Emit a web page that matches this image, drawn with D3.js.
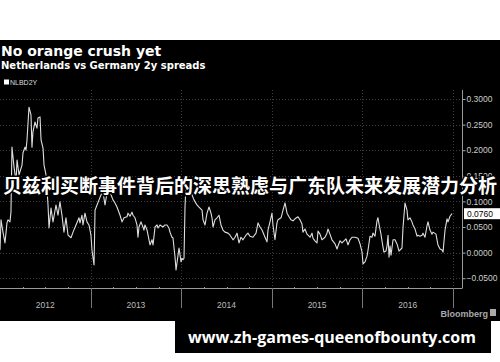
<!DOCTYPE html>
<html>
<head>
<meta charset="utf-8">
<script src="https://cdn.jsdelivr.net/npm/d3@7"></script>
<style>
  body { margin: 0; background: #fff; }
  #chart { width: 500px; height: 362px; }
</style>
</head>
<body>
<div id="chart"></div>
<script>
// NLBD2Y, Netherlands vs Germany 2y spread (decimal year, value)
var years = [
  2012.000, 2012.011, 2012.033, 2012.055, 2012.077, 2012.088, 2012.110, 2012.121, 2012.132, 2012.155,
  2012.177, 2012.188, 2012.210, 2012.243, 2012.254, 2012.276, 2012.287, 2012.298, 2012.320, 2012.342,
  2012.353, 2012.364, 2012.386, 2012.408, 2012.419, 2012.442, 2012.453, 2012.475, 2012.486, 2012.508,
  2012.530, 2012.541, 2012.563, 2012.585, 2012.618, 2012.640, 2012.662, 2012.684, 2012.706, 2012.728,
  2012.751, 2012.784, 2012.806, 2012.839, 2012.872, 2012.883, 2012.905, 2012.916, 2012.938, 2012.960,
  2012.982, 2013.004, 2013.015, 2013.038, 2013.049, 2013.071, 2013.093, 2013.115, 2013.137, 2013.159,
  2013.181, 2013.203, 2013.225, 2013.247, 2013.269, 2013.291, 2013.325, 2013.347, 2013.369, 2013.402,
  2013.413, 2013.435, 2013.457, 2013.468, 2013.490, 2013.512, 2013.523, 2013.534, 2013.556, 2013.578,
  2013.589, 2013.600, 2013.623, 2013.634, 2013.656, 2013.678, 2013.689, 2013.711, 2013.733, 2013.744,
  2013.766, 2013.799, 2013.821, 2013.843, 2013.865, 2013.876, 2013.898, 2013.909, 2013.932, 2013.943,
  2013.965, 2013.976, 2013.998, 2014.009, 2014.020, 2014.031, 2014.042, 2014.053, 2014.086, 2014.119,
  2014.141, 2014.174, 2014.196, 2014.230, 2014.241, 2014.263, 2014.285, 2014.307, 2014.329, 2014.340,
  2014.351, 2014.373, 2014.395, 2014.417, 2014.439, 2014.461, 2014.483, 2014.517, 2014.539, 2014.572,
  2014.594, 2014.616, 2014.638, 2014.660, 2014.682, 2014.715, 2014.737, 2014.759, 2014.792, 2014.826,
  2014.848, 2014.870, 2014.892, 2014.925, 2014.947, 2014.958, 2014.980, 2015.002, 2015.013, 2015.035,
  2015.057, 2015.068, 2015.102, 2015.124, 2015.146, 2015.168, 2015.190, 2015.212, 2015.234, 2015.256,
  2015.289, 2015.311, 2015.333, 2015.344, 2015.366, 2015.389, 2015.422, 2015.444, 2015.455, 2015.477,
  2015.499, 2015.510, 2015.532, 2015.554, 2015.587, 2015.609, 2015.620, 2015.642, 2015.664, 2015.698,
  2015.720, 2015.731, 2015.753, 2015.775, 2015.786, 2015.819, 2015.841, 2015.863, 2015.885, 2015.918,
  2015.951, 2015.974, 2015.996, 2016.007, 2016.029, 2016.051, 2016.062, 2016.084, 2016.106, 2016.117,
  2016.139, 2016.161, 2016.172, 2016.183, 2016.205, 2016.227, 2016.238, 2016.260, 2016.272, 2016.283,
  2016.294, 2016.305, 2016.316, 2016.338, 2016.360, 2016.382, 2016.404, 2016.437, 2016.448, 2016.470,
  2016.492, 2016.503, 2016.525, 2016.547, 2016.558, 2016.581, 2016.603, 2016.614, 2016.636, 2016.658,
  2016.669, 2016.691, 2016.713, 2016.724, 2016.746, 2016.768, 2016.779, 2016.812, 2016.834, 2016.857,
  2016.879, 2016.890, 2016.912, 2016.934, 2016.945, 2016.967, 2016.989
];
var spread = [
  0.005, 0.064, 0.040, 0.019, 0.058, 0.064, 0.060, 0.079, 0.206, 0.167,
  0.138, 0.181, 0.152, 0.171, 0.195, 0.206, 0.200, 0.220, 0.284, 0.269,
  0.206, 0.236, 0.255, 0.243, 0.263, 0.265, 0.220, 0.204, 0.171, 0.152,
  0.093, 0.048, 0.087, 0.060, 0.093, 0.073, 0.099, 0.073, 0.040, 0.068,
  0.034, 0.029, 0.040, 0.054, 0.068, 0.058, 0.073, 0.054, 0.077, 0.060,
  0.054, 0.034, 0.005, -0.024, 0.083, 0.093, 0.103, 0.113, 0.118, 0.093,
  0.116, 0.126, 0.113, 0.103, 0.097, 0.089, 0.073, 0.060, 0.068, 0.070,
  0.077, 0.071, 0.079, 0.073, 0.068, 0.054, 0.030, 0.050, 0.060, 0.050,
  0.044, 0.054, 0.044, 0.034, 0.015, 0.025, 0.015, 0.050, 0.054, 0.048,
  0.054, 0.050, 0.054, 0.054, 0.048, 0.040, 0.030, 0.029, -0.009, -0.034,
  -0.005, 0.009, -0.018, -0.011, -0.014, -0.011, 0.089, 0.132, 0.122, 0.113,
  0.103, 0.093, 0.089, 0.083, 0.064, 0.054, 0.077, 0.089, 0.077, 0.068,
  0.050, 0.064, 0.068, 0.073, 0.054, 0.044, 0.040, 0.038, 0.034, 0.025,
  0.030, 0.038, 0.019, 0.030, 0.025, 0.034, 0.038, 0.032, 0.030, 0.038,
  0.058, 0.050, 0.044, 0.030, 0.021, 0.044, 0.060, 0.077, 0.054, 0.025,
  0.058, 0.064, 0.068, 0.083, 0.097, 0.077, 0.070, 0.064, 0.062, 0.066,
  0.070, 0.064, 0.056, 0.040, 0.046, 0.036, 0.030, 0.038, 0.028, 0.023,
  0.019, 0.042, 0.036, 0.025, 0.030, 0.038, 0.046, 0.036, 0.025, 0.017,
  0.007, 0.013, 0.023, 0.019, 0.021, 0.027, 0.015, 0.025, 0.030, 0.030,
  0.028, 0.017, 0.001, -0.022, -0.018, -0.007, 0.005, 0.032, 0.030, 0.038,
  0.032, 0.062, 0.068, 0.056, 0.036, 0.011, 0.001, 0.003, 0.013, 0.034,
  -0.009, 0.013, -0.005, 0.025, 0.025, 0.017, 0.003, 0.009, 0.048, 0.097,
  0.083, 0.064, 0.068, 0.060, 0.054, 0.046, 0.032, 0.034, 0.032, 0.034,
  0.038, 0.030, 0.052, 0.060, 0.044, 0.036, 0.040, 0.036, 0.015, 0.007,
  0.005, 0.001, 0.044, 0.066, 0.060, 0.071, 0.076
];
var yTicks = [0.30, 0.25, 0.20, 0.15, 0.10, 0.05, 0.00, -0.05];
var yearLabels = ['2012', '2013', '2014', '2015', '2016'];
var lastValue = 0.0760;

var title = 'No orange crush yet';
var subtitle = 'Netherlands vs Germany 2y spreads';
var legendLabel = 'NLBD2Y';
var overlayTitle = '贝兹利买断事件背后的深思熟虑与广东队未来发展潜力分析';
var siteLabel = 'www.zh-games-queenofbounty.com';

function SpreadChart(opts) {
  var width = 500;
  var height = 362;
  var parent = d3.select('#' + opts.id);
  if (parent == null) { return; }

  var data = years.map(function(t, i) { return { t: t, v: spread[i] }; });

  var plotRight = 462;
  var x = d3.scaleLinear().domain([2012, 2017]).range([0, 453]);
  var y = d3.scaleLinear().domain([-0.05, 0.30]).range([278.2, 99]);
  var axisY = 288;

  var svg = parent.append('svg')
    .attr('width', width)
    .attr('height', height)
    .attr('viewBox', '0 0 ' + width + ' ' + height)
    .style('font-family', '"Liberation Sans", Arial, sans-serif');

  // black terminal panel
  svg.append('rect')
    .attr('x', 0).attr('y', 40)
    .attr('width', width).attr('height', 281)
    .attr('fill', '#000');

  svg.append('text')
    .attr('x', 1).attr('y', 55.5)
    .attr('fill', '#fff')
    .attr('font-size', 14)
    .attr('font-weight', 'bold')
    .style('font-family', '"DejaVu Sans", sans-serif')
    .text(title);
  svg.append('text')
    .attr('x', 1).attr('y', 69)
    .attr('fill', '#fff')
    .attr('font-size', 10)
    .attr('font-weight', 'bold')
    .style('font-family', '"DejaVu Sans", sans-serif')
    .text(subtitle);

  svg.append('rect')
    .attr('x', 4).attr('y', 79.5)
    .attr('width', 5).attr('height', 5)
    .attr('fill', '#fff');
  svg.append('text')
    .attr('x', 10).attr('y', 85)
    .attr('fill', '#ddd')
    .attr('font-size', 7)
    .text(legendLabel);

  // grid
  var yearStarts = d3.range(2013, 2018);
  svg.append('g').selectAll('line')
    .data(yTicks)
    .enter().append('line')
    .attr('x1', 0).attr('x2', plotRight)
    .attr('y1', function(d) { return Math.round(y(d)) + 0.5; })
    .attr('y2', function(d) { return Math.round(y(d)) + 0.5; })
    .attr('stroke', '#3c3c3c')
    .attr('stroke-dasharray', '1,2');
  svg.append('g').selectAll('line')
    .data(yearStarts)
    .enter().append('line')
    .attr('x1', function(d) { return Math.round(x(d)) + 0.5; })
    .attr('x2', function(d) { return Math.round(x(d)) + 0.5; })
    .attr('y1', 90).attr('y2', axisY)
    .attr('stroke', '#3c3c3c')
    .attr('stroke-dasharray', '1,2');

  // right value axis
  var yAxis = d3.axisRight(y)
    .tickValues(yTicks)
    .tickFormat(d3.format('.4f'))
    .tickSize(3)
    .tickPadding(1);
  var gy = svg.append('g')
    .attr('transform', 'translate(' + (plotRight + 0.5) + ',0)')
    .call(yAxis);
  gy.select('.domain').remove();
  gy.selectAll('line').attr('stroke', '#aaa');
  gy.selectAll('text')
    .attr('fill', '#ccc')
    .attr('font-size', 8.5)
    .style('font-family', '"Liberation Sans", Arial, sans-serif');
  svg.append('line')
    .attr('x1', plotRight + 0.5).attr('x2', plotRight + 0.5)
    .attr('y1', 90).attr('y2', axisY)
    .attr('stroke', '#999');

  // bottom time axis with quarterly minor ticks
  svg.append('line')
    .attr('x1', 0).attr('x2', plotRight + 0.5)
    .attr('y1', axisY + 0.5).attr('y2', axisY + 0.5)
    .attr('stroke', '#999');
  var quarters = d3.range(2012.25, 2017, 0.25).filter(function(q) { return q % 1 !== 0; });
  svg.append('g').selectAll('line')
    .data(quarters)
    .enter().append('line')
    .attr('x1', function(d) { return Math.round(x(d)) + 0.5; })
    .attr('x2', function(d) { return Math.round(x(d)) + 0.5; })
    .attr('y1', axisY - 1).attr('y2', axisY + 1)
    .attr('stroke', '#999');
  svg.append('g').selectAll('line')
    .data(yearStarts)
    .enter().append('line')
    .attr('x1', function(d) { return Math.round(x(d)) + 0.5; })
    .attr('x2', function(d) { return Math.round(x(d)) + 0.5; })
    .attr('y1', axisY).attr('y2', 308)
    .attr('stroke', '#777');
  svg.append('g').selectAll('text')
    .data(yearLabels)
    .enter().append('text')
    .attr('x', function(d) { return x(+d + 0.5); })
    .attr('y', 308)
    .attr('text-anchor', 'middle')
    .attr('fill', '#bbb')
    .attr('font-size', 8.5)
    .text(function(d) { return d; });

  // the series
  var line = d3.line()
    .x(function(d) { return x(d.t); })
    .y(function(d) { return y(d.v); });
  svg.append('path')
    .datum(data)
    .attr('d', line)
    .attr('fill', 'none')
    .attr('stroke', '#dedede')
    .attr('stroke-width', 1.1)
    .attr('stroke-linejoin', 'round');

  // last value tag
  var tag = svg.append('g')
    .attr('transform', 'translate(' + (plotRight + 2) + ',' + y(lastValue) + ')');
  tag.append('rect')
    .attr('x', 0).attr('y', -5.5)
    .attr('width', 36).attr('height', 11)
    .attr('fill', '#fff');
  tag.append('text')
    .attr('x', 3).attr('y', 3.5)
    .attr('fill', '#000')
    .attr('font-size', 8.5)
    .text(d3.format('.4f')(lastValue));

  // Bloomberg mark
  svg.append('text')
    .attr('x', 488).attr('y', 317)
    .attr('text-anchor', 'end')
    .attr('fill', '#aaa')
    .attr('font-size', 9)
    .attr('font-weight', 'bold')
    .text('Bloomberg');
  svg.append('rect')
    .attr('x', 490).attr('y', 309)
    .attr('width', 6).attr('height', 7)
    .attr('fill', '#aaa');

  // overlaid headline
  svg.append('text')
    .attr('x', 250).attr('y', 193)
    .attr('text-anchor', 'middle')
    .attr('fill', '#fff')
    .attr('stroke', '#000')
    .attr('stroke-width', 3)
    .attr('paint-order', 'stroke')
    .attr('font-size', 19)
    .attr('font-weight', 'bold')
    .style('font-family', '"Noto Sans CJK SC", sans-serif')
    .text(overlayTitle);

  // site banner
  svg.append('rect')
    .attr('x', 175).attr('y', 321)
    .attr('width', 316).attr('height', 32)
    .attr('fill', '#000');
  svg.append('text')
    .attr('x', 332).attr('y', 343)
    .attr('text-anchor', 'middle')
    .attr('fill', '#fff')
    .attr('font-size', 16)
    .attr('font-weight', 'bold')
    .style('font-family', '"Open Sans", "DejaVu Sans", sans-serif')
    .text(siteLabel);

  return {
    destroy: function() {
      parent.select('svg').remove();
    },
  };
}

SpreadChart({ id: 'chart' });
</script>
</body>
</html>
